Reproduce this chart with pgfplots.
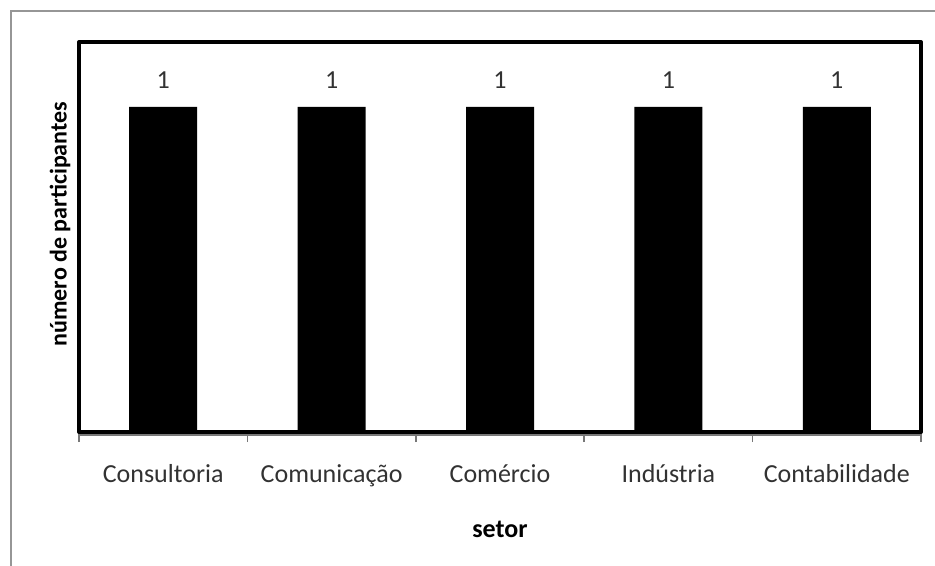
\documentclass[border=0pt]{standalone}
\usepackage{pgfplots}
\pgfplotsset{compat=1.18}
\usepackage{fontspec}
\setmainfont{Carlito}
\definecolor{framegray}{RGB}{150,150,150}
\definecolor{axisgray}{RGB}{120,120,120}
\definecolor{textgray}{RGB}{50,50,50}
\begin{document}
\begin{tikzpicture}
\path[use as bounding box] (0,0) rectangle (467.5pt,-283pt);
% outer chart frame
\draw[framegray, line width=1.2pt] (5.5pt,-295pt) -- (5.5pt,-5.5pt) -- (480pt,-5.5pt);
\begin{axis}[
  at={(39.5pt,-216pt)}, anchor=south west,
  scale only axis, width=421pt, height=195pt,
  xmin=-0.5, xmax=4.5, ymin=0, ymax=1.2,
  /pgf/number format/assume math mode=true,
  ytick=\empty,
  xtick={-0.5,0.5,1.5,2.5,3.5,4.5},
  xticklabels={Consultoria,Comunicação,Comércio,Indústria,Contabilidade},
  x tick label as interval,
  xtick pos=lower,
  tick align=outside,
  major tick length=5pt,
  x tick style={axisgray, line width=0.8pt},
  xticklabel style={font=\fontsize{13}{15}\selectfont, text=textgray, anchor=base, yshift=-20pt},
  axis line style={line width=2pt, black, line join=round},
  xlabel={setor},
  ylabel={número de participantes},
  xlabel style={font=\bfseries\fontsize{13}{15}\selectfont, at={(axis description cs:0.5,0)}, anchor=base, yshift=-52.5pt},
  ylabel style={font=\bfseries\fontsize{12}{14}\selectfont, at={(axis description cs:-0.0148,0.533)}, anchor=base},
  clip=false,
]
\addplot[ybar, fill=black, draw=none, bar width=34pt,
  nodes near coords,
  every node near coord/.append style={font=\fontsize{13}{15}\selectfont, text=textgray, anchor=base, yshift=9pt}]
  coordinates {(0,1) (1,1) (2,1) (3,1) (4,1)};
% horizontal category axis line just under the frame
\draw[axisgray, line width=1.2pt] ([yshift=-1.6pt]rel axis cs:0,0) -- ([yshift=-1.6pt]rel axis cs:1,0);
\end{axis}
\end{tikzpicture}
\end{document}
